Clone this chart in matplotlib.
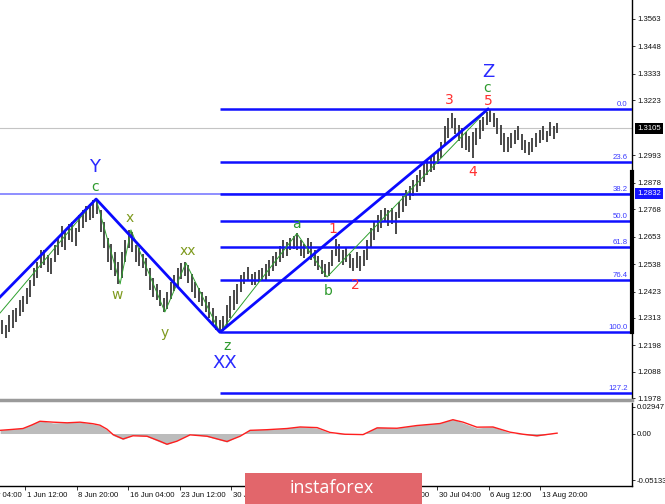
import numpy as np
import matplotlib.pyplot as plt
from matplotlib.patches import Rectangle

plt.rcParams['font.family'] = ['Liberation Sans', 'DejaVu Sans']

# 12h bars, time in hours counted from 1 Jun 12:00
bar_start = -78
bar_step = 12
high = [1.2304, 1.2283, 1.2325, 1.2346, 1.2355, 1.2388, 1.2405, 1.2438, 1.2472, 1.2522,
        1.2547, 1.2597, 1.2597, 1.2576, 1.2564, 1.2618, 1.2651, 1.2697, 1.2672, 1.2706,
        1.2714, 1.2689, 1.2743, 1.2764, 1.2781, 1.2789, 1.2806, 1.2810, 1.2764, 1.2714,
        1.2647, 1.2622, 1.2589, 1.2547, 1.2589, 1.2639, 1.2681, 1.2672, 1.2618, 1.2605,
        1.2580, 1.2564, 1.2522, 1.2480, 1.2455, 1.2430, 1.2396, 1.2421, 1.2463, 1.2492,
        1.2522, 1.2543, 1.2547, 1.2534, 1.2497, 1.2463, 1.2438, 1.2421, 1.2405, 1.2380,
        1.2355, 1.2321, 1.2304, 1.2321, 1.2367, 1.2405, 1.2430, 1.2455, 1.2492, 1.2505,
        1.2526, 1.2497, 1.2505, 1.2513, 1.2522, 1.2538, 1.2555, 1.2572, 1.2589, 1.2614,
        1.2639, 1.2630, 1.2647, 1.2656, 1.2668, 1.2639, 1.2622, 1.2647, 1.2630, 1.2597,
        1.2572, 1.2555, 1.2538, 1.2547, 1.2597, 1.2643, 1.2622, 1.2597, 1.2605, 1.2580,
        1.2564, 1.2589, 1.2572, 1.2597, 1.2639, 1.2689, 1.2714, 1.2743, 1.2764, 1.2773,
        1.2764, 1.2773, 1.2756, 1.2798, 1.2823, 1.2848, 1.2865, 1.2890, 1.2910, 1.2931,
        1.2961, 1.2973, 1.2986, 1.2998, 1.3015, 1.3048, 1.3115, 1.3149, 1.3170, 1.3149,
        1.3119, 1.3107, 1.3090, 1.3074, 1.3090, 1.3107, 1.3140, 1.3153, 1.3174, 1.3186,
        1.3170, 1.3149, 1.3119, 1.3086, 1.3069, 1.3086, 1.3099, 1.3115, 1.3082, 1.3057,
        1.3048, 1.3065, 1.3086, 1.3099, 1.3115, 1.3094, 1.3132, 1.3115, 1.3128]
low = [1.2246, 1.2229, 1.2254, 1.2271, 1.2296, 1.2321, 1.2338, 1.2371, 1.2401, 1.2447,
       1.2480, 1.2522, 1.2534, 1.2505, 1.2497, 1.2547, 1.2576, 1.2610, 1.2597, 1.2639,
       1.2630, 1.2614, 1.2672, 1.2689, 1.2714, 1.2722, 1.2731, 1.2747, 1.2672, 1.2605,
       1.2547, 1.2513, 1.2488, 1.2455, 1.2480, 1.2547, 1.2605, 1.2589, 1.2547, 1.2530,
       1.2522, 1.2488, 1.2430, 1.2401, 1.2388, 1.2363, 1.2338, 1.2350, 1.2392, 1.2426,
       1.2447, 1.2476, 1.2488, 1.2459, 1.2421, 1.2396, 1.2380, 1.2363, 1.2338, 1.2313,
       1.2279, 1.2263, 1.2250, 1.2258, 1.2279, 1.2313, 1.2346, 1.2371, 1.2421, 1.2455,
       1.2467, 1.2451, 1.2451, 1.2463, 1.2467, 1.2472, 1.2488, 1.2509, 1.2530, 1.2547,
       1.2564, 1.2572, 1.2597, 1.2601, 1.2597, 1.2572, 1.2564, 1.2580, 1.2555, 1.2530,
       1.2513, 1.2497, 1.2484, 1.2488, 1.2530, 1.2572, 1.2547, 1.2534, 1.2547, 1.2522,
       1.2509, 1.2522, 1.2509, 1.2530, 1.2555, 1.2605, 1.2639, 1.2672, 1.2689, 1.2714,
       1.2697, 1.2706, 1.2664, 1.2731, 1.2756, 1.2781, 1.2806, 1.2823, 1.2839, 1.2865,
       1.2881, 1.2910, 1.2923, 1.2931, 1.2956, 1.2982, 1.3032, 1.3065, 1.3107, 1.3082,
       1.3053, 1.3023, 1.3015, 1.3007, 1.2982, 1.3036, 1.3061, 1.3094, 1.3119, 1.3132,
       1.3111, 1.3082, 1.3036, 1.3007, 1.3007, 1.3023, 1.3040, 1.3057, 1.3015, 1.3002,
       1.2994, 1.3007, 1.3028, 1.3044, 1.3057, 1.3048, 1.3074, 1.3061, 1.3086]

last_price = 1.3105
level_price = 1.2832

# wave counts
main_t = [-85, 243, 666, 1582]
main_p = [1.2401, 1.2810, 1.2253, 1.3186]
sub_t = [-85, 243, 325, 362, 478, 550, 666, 929, 1032, 1582]
sub_p = [1.2334, 1.2810, 1.2455, 1.2681, 1.2338, 1.2543, 1.2253, 1.2666, 1.2484, 1.3186]

fib_levels = [0.0, 23.6, 38.2, 50.0, 61.8, 76.4, 100.0, 127.2]
fib_top, fib_bottom = 1.3186, 1.2253
fib_start = 666

wave_labels = [
    ('Y', 239, 1.2944, '#2a2aff', 13), ('c', 239, 1.2860, '#2e9a2e', 10),
    ('x', 359, 1.2731, '#7e9a1e', 10), ('w', 314, 1.2409, '#7e9a1e', 10),
    ('y', 478, 1.2250, '#7e9a1e', 10), ('xx', 557, 1.2593, '#7e9a1e', 10),
    ('z', 690, 1.2196, '#2e9a2e', 10), ('XX', 683, 1.2125, '#2a2aff', 13),
    ('a', 929, 1.2706, '#2e9a2e', 10), ('b', 1035, 1.2426, '#2e9a2e', 10),
    ('1', 1052, 1.2685, '#ff3030', 10), ('2', 1128, 1.2451, '#ff3030', 10),
    ('3', 1449, 1.3224, '#ff3030', 10), ('4', 1531, 1.2923, '#ff3030', 10),
    ('5', 1582, 1.3218, '#ff3030', 10), ('c', 1580, 1.3276, '#2e9a2e', 10),
    ('Z', 1582, 1.3340, '#2a2aff', 13),
]

price_ticks = [1.3563, 1.3448, 1.3333, 1.3223, 1.2993, 1.2878, 1.2768, 1.2653,
               1.2538, 1.2423, 1.2313, 1.2198, 1.2088, 1.1978]

# oscillator
osc_t = [-85, -44, -7, 24, 51, 96, 144, 188, 232, 256, 280, 301, 335, 369, 417, 461, 485,
         519, 564, 622, 690, 735, 769, 827, 895, 940, 998, 1042, 1093, 1155, 1203, 1271,
         1339, 1418, 1462, 1497, 1544, 1599, 1657, 1702, 1749, 1818]
osc_hist = [0.0039, 0.0050, 0.0060, 0.0105, 0.0143, 0.0116, 0.0121, 0.0127, 0.0105, 0.0088,
            0.0039, -0.0022, -0.0066, -0.0017, -0.0033, -0.0094, -0.0121, -0.0077, -0.0006,
            -0.0033, -0.0094, -0.0017, 0.0044, 0.0044, 0.0060, 0.0077, 0.0060, 0.0006,
            -0.0011, -0.0011, 0.0072, 0.0060, 0.0094, 0.0116, 0.0160, 0.0116, 0.0060,
            0.0077, 0.0006, -0.0011, -0.0028, 0.0006]
osc_signal = [0.0035, 0.0045, 0.0055, 0.0095, 0.0135, 0.0125, 0.0118, 0.0125, 0.0108, 0.0092,
              0.0048, -0.0012, -0.0060, -0.0025, -0.0030, -0.0085, -0.0118, -0.0085, -0.0015,
              -0.0030, -0.0088, -0.0030, 0.0035, 0.0042, 0.0055, 0.0072, 0.0065, 0.0012,
              -0.0008, -0.0012, 0.0062, 0.0058, 0.0088, 0.0110, 0.0152, 0.0125, 0.0070,
              0.0072, 0.0015, -0.0008, -0.0025, 0.0004]
osc_ticks = [0.02947, 0.0, -0.05133]
osc_tick_labels = ['0.02947', '0.00', '-0.05133']

date_hours = [-176, 0, 176, 352, 528, 704, 880, 1056, 1232, 1408, 1584, 1760]
date_labels = ['25 May 04:00', '1 Jun 12:00', '8 Jun 20:00', '16 Jun 04:00', '23 Jun 12:00',
               '30 Jun 20:00', '8 Jul 04:00', '15 Jul 12:00', '22 Jul 20:00', '30 Jul 04:00',
               '6 Aug 12:00', '13 Aug 20:00']

W, H = 665, 504
fig = plt.figure(figsize=(W / 100, H / 100), dpi=100)
ax = fig.add_axes([0, 1 - 400 / H, 632 / W, 400 / H])
ax2 = fig.add_axes([0, 1 - 486 / H, 632 / W, 83 / H])

xmin, xmax = -85.4, 2074
fs = 5.6

# ---- price panel
t = bar_start + bar_step * np.arange(len(high))
ax.vlines(t, low, high, color='#3a3a3a', lw=1.3, zorder=2)

ax.axhline(last_price, color='#c4c4c4', lw=0.8, zorder=1)
ax.axhline(level_price, color='#7c7cff', lw=1.2, zorder=1)

fib_span = fib_top - fib_bottom
for lv in fib_levels:
    p = fib_top - lv / 100 * fib_span
    ax.plot([fib_start, xmax], [p, p], color='#1010ff', lw=1.8, zorder=3, solid_capstyle='butt')
    ax.text(0.993, p + 0.0004, f'{lv:.1f}', transform=ax.get_yaxis_transform(), ha='right',
            va='bottom', fontsize=fs, color='#3a3aff', zorder=5)

ax.plot(sub_t, sub_p, color='#2ea02e', lw=0.7, zorder=4)
ax.plot(main_t, main_p, color='#0a0aff', lw=2.0, zorder=4)

for txt, tx, py, col, size in wave_labels:
    ax.text(tx, py, txt, color=col, fontsize=size, ha='center', va='center', zorder=6,
            family=['DejaVu Sans'])

ax.set_xlim(xmin, xmax)
ax.set_ylim(1.1970, 1.3642)
ax.set_xticks([])
ax.yaxis.tick_right()
ax.set_yticks(price_ticks)
ax.set_yticklabels([f'{v:.4f}' for v in price_ticks])
ax.tick_params(axis='y', labelsize=fs, length=2, width=0.6, pad=2, colors='#111111')
for s in ['left', 'top']:
    ax.spines[s].set_visible(False)
ax.spines['right'].set_color('black')
ax.spines['right'].set_linewidth(1.0)
ax.spines['bottom'].set_color('#9a9a9a')
ax.spines['bottom'].set_linewidth(2.5)
ax.plot([1, 1], [1.2254, 1.2923], transform=ax.get_yaxis_transform(), color='black',
        lw=3, clip_on=False, zorder=7)

ax.text(1.008, last_price, f'{last_price:.4f}', transform=ax.get_yaxis_transform(),
        ha='left', va='center', fontsize=fs, color='white', clip_on=False,
        bbox=dict(boxstyle='square,pad=0.25', fc='black', ec='none'))
ax.text(1.008, level_price, f'{level_price:.4f}', transform=ax.get_yaxis_transform(),
        ha='left', va='center', fontsize=fs, color='white', clip_on=False,
        bbox=dict(boxstyle='square,pad=0.25', fc='#1414ff', ec='none'))

# ---- oscillator panel
ax2.fill_between(osc_t, 0, osc_hist, color='#bcbcbc', lw=0)
ax2.plot(osc_t, osc_signal, color='#ff1e1e', lw=1.0)
ax2.set_xlim(xmin, xmax)
ax2.set_ylim(-0.0578, 0.0336)
ax2.yaxis.tick_right()
ax2.set_yticks(osc_ticks)
ax2.set_yticklabels(osc_tick_labels)
ax2.tick_params(axis='y', labelsize=fs, length=2, width=0.6, pad=1.5, colors='#111111')
ax2.set_xticks([h for h in date_hours if xmin < h < xmax])
ax2.set_xticklabels([])
ax2.tick_params(axis='x', length=3, width=0.6, colors='#111111')
for s in ['left', 'top']:
    ax2.spines[s].set_visible(False)
for s in ['right', 'bottom']:
    ax2.spines[s].set_color('black')
    ax2.spines[s].set_linewidth(1.0)
for h, lab in zip(date_hours, date_labels):
    ax2.text(h + 6, -0.07, lab, transform=ax2.get_xaxis_transform(), ha='left', va='top',
             fontsize=fs, color='#111111', clip_on=False)

# ---- watermark
fig.add_artist(Rectangle((245 / W, 0), 177 / W, 31 / H, transform=fig.transFigure,
                         fc='#e2666b', ec='none', zorder=10))
fig.text(332 / W, 1 - 488 / H, 'instaforex', color='white', fontsize=13, ha='center',
         va='center', family=['Open Sans', 'DejaVu Sans'], zorder=11)

fig.savefig('out.png', dpi=100)
